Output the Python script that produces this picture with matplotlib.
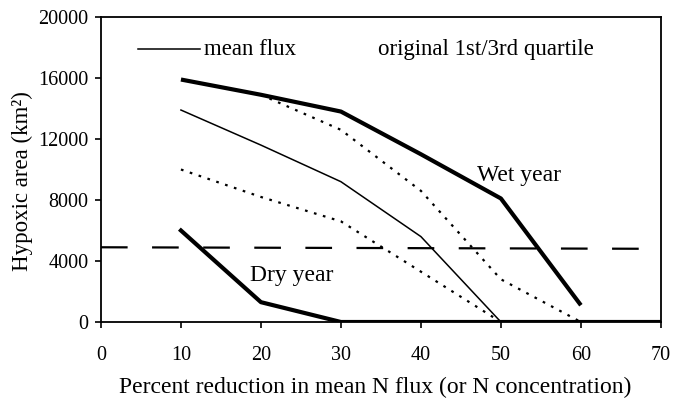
import matplotlib
matplotlib.use("Agg")
import matplotlib.pyplot as plt

reduction = [10, 20, 30, 40, 50, 60]
wet_year = [15900, 14900, 13800, 11000, 8100, 1100]
upper_q_x = [20, 30, 40, 50, 60]
upper_q = [14900, 12600, 8600, 2800, 0]
mean_x = [10, 20, 30, 40, 50]
mean_flux = [13900, 11600, 9200, 5600, 0]
lower_q_x = [10, 20, 30, 40, 50]
lower_q = [10000, 8200, 6600, 3300, 0]
dry_x = [10, 20, 30, 70]
dry_year = [6000, 1300, 0, 0]
target_x = [0, 69]
target = [4900, 4800]

xticks = [0, 10, 20, 30, 40, 50, 60, 70]
yticks = [0, 4000, 8000, 12000, 16000, 20000]

plt.rcParams['font.family'] = ['Liberation Serif', 'DejaVu Serif']

fig = plt.figure(figsize=(6.73, 4.0), dpi=100)
ax = fig.add_axes([0.150, 0.195, 0.832, 0.7625])

ax.plot(reduction, wet_year, color='black', lw=3.0, solid_capstyle='butt')
ax.plot(upper_q_x, upper_q, color='black', lw=1.6, linestyle=(0, (1.2, 3.0)))
ax.plot(mean_x, mean_flux, color='black', lw=1.1)
ax.plot(lower_q_x, lower_q, color='black', lw=1.6, linestyle=(0, (1.2, 3.0)))
ax.plot(dry_x, dry_year, color='black', lw=3.0)
ax.plot(target_x, target, color='black', lw=1.6, linestyle=(0, (12, 11)))

ax.set_xlim(0, 70)
ax.set_ylim(0, 20000)
ax.set_xticks(xticks)
ax.set_yticks(yticks)
ax.tick_params(axis='both', labelsize=14.5, direction='out', length=4, width=1.2)
ax.tick_params(axis='x', pad=13)
ax.tick_params(axis='y', pad=5)
for s in ax.spines.values():
    s.set_linewidth(1.3)

ax.set_xlabel('Percent reduction in mean N flux (or N concentration)', fontsize=17, labelpad=8)
ax.xaxis.set_label_coords(0.489, -0.18)
ax.set_ylabel('Hypoxic area (km²)', fontsize=16.5)
ax.yaxis.set_label_coords(-0.121, 0.461)

ax.plot([4.6, 12.4], [17900, 17900], color='black', lw=1.1)
ax.text(12.9, 17900, 'mean flux', fontsize=16.5, va='center', ha='left')
ax.text(34.6, 17900, 'original 1st/3rd quartile', fontsize=16.5, va='center', ha='left')
ax.text(47.0, 9600, 'Wet year', fontsize=17, va='center', ha='left')
ax.text(18.6, 3050, 'Dry year', fontsize=17, va='center', ha='left')

fig.savefig('out.png', dpi=100)
